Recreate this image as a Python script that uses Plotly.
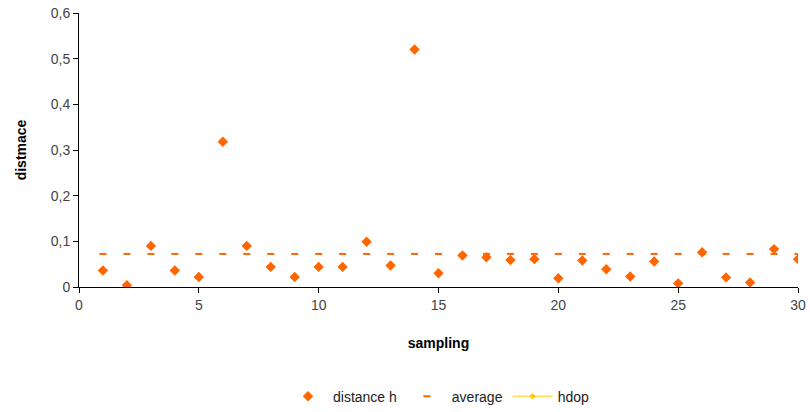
import plotly.graph_objects as go

sampling = list(range(1, 31))
distance_h = [0.036, 0.004, 0.090, 0.036, 0.022, 0.318, 0.090, 0.044, 0.022, 0.044,
              0.044, 0.099, 0.047, 0.520, 0.030, 0.069, 0.065, 0.059, 0.061, 0.019,
              0.058, 0.039, 0.023, 0.056, 0.008, 0.076, 0.021, 0.010, 0.083, 0.061]
average = [0.0724] * 30
y_ticks = [0, 0.1, 0.2, 0.3, 0.4, 0.5, 0.6]
y_ticktext = ["0", "0,1", "0,2", "0,3", "0,4", "0,5", "0,6"]
x_ticks = [0, 5, 10, 15, 20, 25, 30]

orange = "#FF6600"
fig = go.Figure()
fig.add_trace(go.Scatter(
    x=sampling, y=distance_h, mode="markers", name="distance h",
    marker=dict(symbol="diamond", size=8, color=orange),
))
fig.add_trace(go.Scatter(
    x=sampling, y=average, mode="markers", name="average",
    marker=dict(symbol="line-ew", size=5, line=dict(color=orange, width=2), color=orange),
))
fig.add_trace(go.Scatter(
    x=[None], y=[None], mode="lines+markers", name="hdop",
    line=dict(color="#FFCC00", width=1), marker=dict(symbol="diamond", size=5, color="#FFCC00"),
))

axis_font = dict(family="Liberation Sans, Arial", size=14, color="#444444")
title_font = dict(family="Liberation Sans, Arial", size=14, color="#000")
fig.update_layout(
    width=810, height=412,
    margin=dict(l=79, r=12, t=13, b=125, autoexpand=False),
    paper_bgcolor="white", plot_bgcolor="white",
    showlegend=True,
    legend=dict(orientation="h", x=0.5, xanchor="center", xref="paper",
                y=-0.40, yanchor="middle", traceorder="normal", itemwidth=40,
                font=dict(family="Liberation Sans, Arial", size=14, color="#222222")),
    font=dict(family="Liberation Sans, Arial", size=14, color="#222222"),
)
fig.update_xaxes(
    range=[0, 30], tickvals=x_ticks, ticks="outside", ticklen=5, tickcolor="#000",
    showline=True, linecolor="#000", linewidth=1, showgrid=False, zeroline=False,
    tickfont=axis_font, automargin=False,
    title=dict(text="<b>sampling</b>", font=title_font, standoff=26),
)
fig.update_yaxes(
    range=[0, 0.6], tickvals=y_ticks, ticktext=y_ticktext, ticks="outside", ticklen=5,
    tickcolor="#000", showline=True, linecolor="#000", linewidth=1, showgrid=False,
    zeroline=False, tickfont=axis_font, automargin=False,
    title=dict(text="<b>distmace</b>", font=title_font, standoff=20),
)
fig.write_html("out.html")
